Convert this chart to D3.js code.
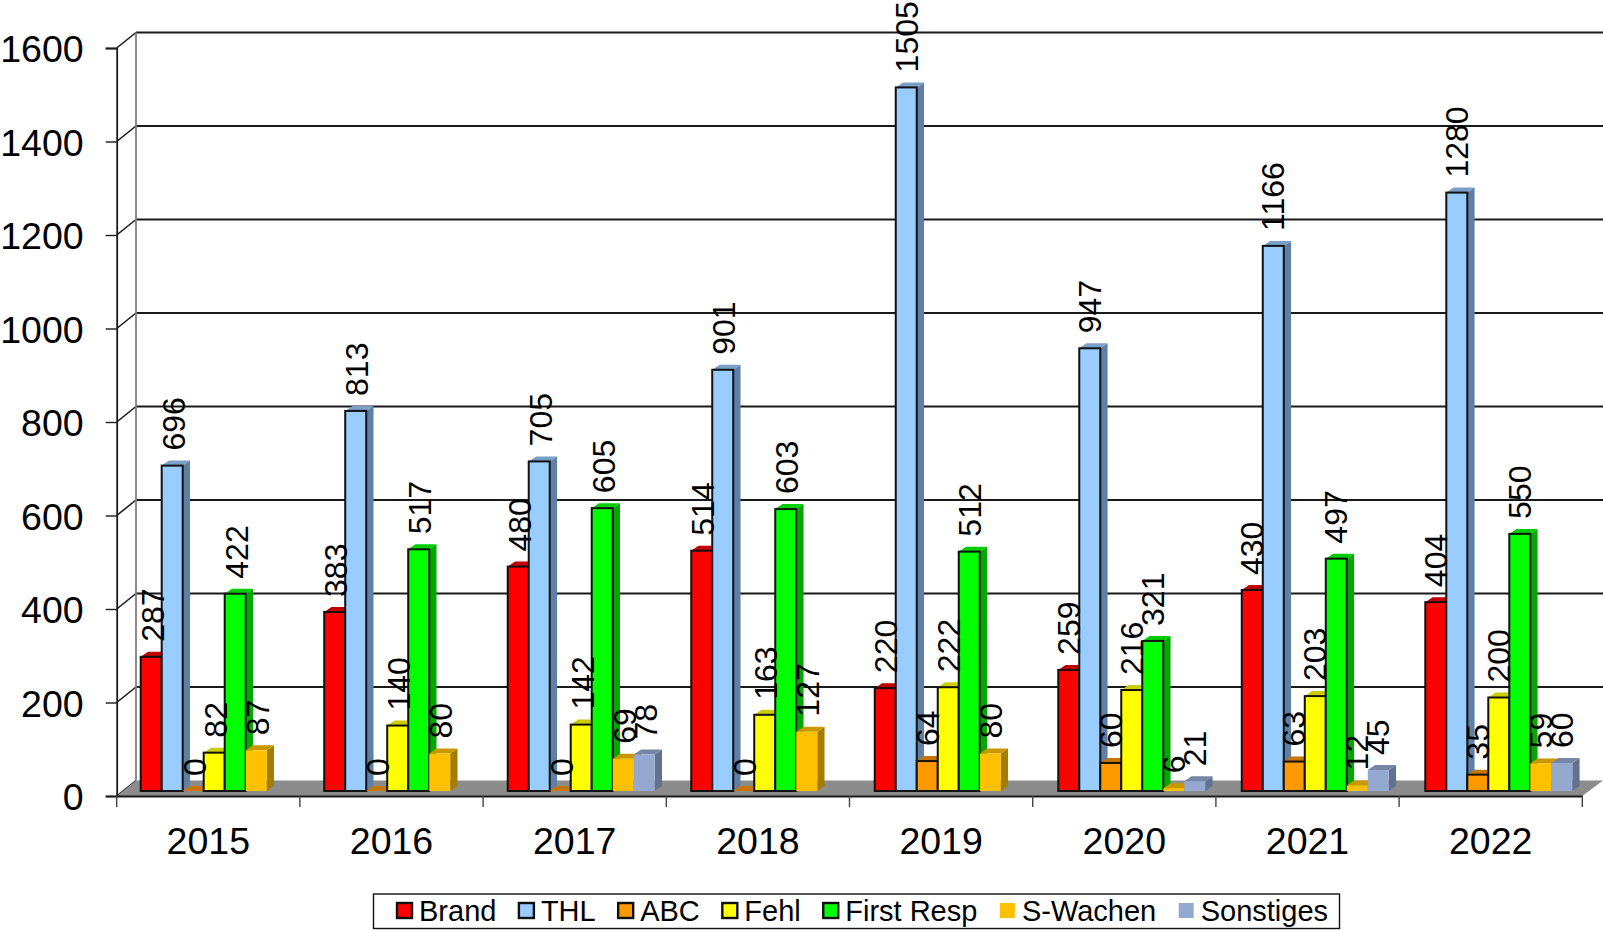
<!DOCTYPE html>
<html>
<head>
<meta charset="utf-8">
<script src="https://cdn.jsdelivr.net/npm/d3@7"></script>
<style>
  html, body { margin: 0; padding: 0; background: #fff; overflow: hidden; }
  svg { display: block; }
  text { font-family: "Liberation Sans", Arial, sans-serif; fill: #000; }
</style>
</head>
<body>
<svg></svg>
<script>
const years = ["2015", "2016", "2017", "2018", "2019", "2020", "2021", "2022"];
const seriesNames = ["Brand", "THL", "ABC", "Fehl", "First Resp", "S-Wachen", "Sonstiges"];

const brand = [287, 383, 480, 514, 220, 259, 430, 404];
const thl = [696, 813, 705, 901, 1505, 947, 1166, 1280];
const abc = [0, 0, 0, 0, 64, 60, 63, 35];
const fehl = [82, 140, 142, 163, 222, 216, 203, 200];
const firstResp = [422, 517, 605, 603, 512, 321, 497, 550];
const sWachen = [87, 80, 69, 127, 80, 6, 12, 59];
const sonstiges = [null, null, 78, null, null, 21, 45, 60];

const yTicks = [0, 200, 400, 600, 800, 1000, 1200, 1400, 1600];

const front = ["#ff0000", "#99ccff", "#ff9900", "#ffff00", "#00ff00", "#ffc000", "#95a9d0"];
const tops = ["#c00000", "#7a9fc8", "#c67700", "#cccc00", "#00cc00", "#c99700", "#7686a6"];
const sides = ["#a00000", "#5f7fa6", "#a86500", "#a8a800", "#00a800", "#a67c00", "#627190"];
const outlined = [true, true, true, true, true, false, false];

const allSeries = [brand, thl, abc, fehl, firstResp, sWachen, sonstiges];

const width = 1603;
const height = 930;
const svg = d3.select("svg").attr("width", width).attr("height", height);

const x0 = 116.7;
const x1 = 1582.3;
const wallDx = 19.3;
const wallDy = 15.5;
const barDx = 7.3;
const barDy = 5;
const baseOffset = 5; // bars stand a little behind the front edge of the floor

const xScale = d3.scaleBand().domain(years).range([x0, x1]);
// the bar groups drift a touch to the right of the ticks in the original
const groupScale = d3.scaleBand().domain(years).range([x0, x1 + 2.5]);
const seriesScale = d3
  .scaleBand()
  .domain(seriesNames)
  .range([24, 24 + 147]);
const yScale = d3.scaleLinear().domain([0, 1600]).range([796, 48]);

const wallX = x0 + wallDx;

// back wall gridlines and diagonals
const grid = svg.append("g");
yTicks.forEach((t) => {
  const y = yScale(t);
  if (t > 0) {
    grid
      .append("line")
      .attr("x1", wallX)
      .attr("x2", width)
      .attr("y1", y - wallDy)
      .attr("y2", y - wallDy)
      .attr("stroke", "#1a1a1a")
      .attr("stroke-width", 2);
  }
  grid
    .append("line")
    .attr("x1", x0)
    .attr("x2", wallX)
    .attr("y1", y)
    .attr("y2", y - wallDy)
    .attr("stroke", "#1a1a1a")
    .attr("stroke-width", 1.6);
});

// floor
svg
  .append("polygon")
  .attr(
    "points",
    [
      [x0, yScale(0)],
      [wallX, yScale(0) - wallDy],
      [width, yScale(0) - wallDy],
      [x1, yScale(0)],
    ].join(" ")
  )
  .attr("fill", "#8c8c8c");

grid
  .append("line")
  .attr("x1", wallX)
  .attr("x2", wallX)
  .attr("y1", yScale(1600) - wallDy)
  .attr("y2", yScale(0) - wallDy)
  .attr("stroke", "#808080")
  .attr("stroke-width", 1.8);

// y axis
const yAxis = svg
  .append("g")
  .attr("transform", `translate(${x0},0)`)
  .call(d3.axisLeft(yScale).tickValues(yTicks).tickFormat(d3.format("d")).tickSize(11).tickPadding(22));
yAxis.select(".domain").attr("stroke", "#1a1a1a").attr("stroke-width", 1.8);
yAxis.selectAll("line").attr("stroke", "#1a1a1a").attr("stroke-width", 1.4);
yAxis.selectAll("text").style("font-size", "37.5px").attr("dy", "0.36em");

// x axis
const xAxis = svg
  .append("g")
  .attr("transform", `translate(0,${yScale(0)})`)
  .call(d3.axisBottom(xScale).tickSize(0).tickPadding(31));
xAxis.select(".domain").attr("stroke", "#1a1a1a").attr("stroke-width", 2);
xAxis.selectAll("text").style("font-size", "37.5px");

const edges = years.map((y) => xScale(y)).concat([x1]);
svg
  .append("g")
  .selectAll("line")
  .data(edges)
  .enter()
  .append("line")
  .attr("x1", (d) => d)
  .attr("x2", (d) => d)
  .attr("y1", yScale(0))
  .attr("y2", yScale(0) + 11)
  .attr("stroke", "#444")
  .attr("stroke-width", 1.4);

// bars, left to right so each one covers the side of the previous one
const bars = svg.append("g");
const labels = [];
const barW = seriesScale.bandwidth();
const baseY = yScale(0) - baseOffset;
const unit = yScale(0) - yScale(1);

years.forEach((year, i) => {
  seriesNames.forEach((name, s) => {
    const v = allSeries[s][i];
    if (v === null) return;
    const left = groupScale(year) + seriesScale(name);
    const right = left + barW;
    const top = baseY - v * unit;
    const line = outlined[s] ? "#111" : "none";

    bars
      .append("polygon")
      .attr("points", [[right, top], [right + barDx, top - barDy], [right + barDx, baseY - barDy], [right, baseY]].join(" "))
      .attr("fill", sides[s]);
    bars
      .append("polygon")
      .attr("points", [[left, top], [left + barDx, top - barDy], [right + barDx, top - barDy], [right, top]].join(" "))
      .attr("fill", tops[s]);
    if (v > 0) {
      bars
        .append("rect")
        .attr("x", left)
        .attr("y", top)
        .attr("width", barW)
        .attr("height", baseY - top)
        .attr("fill", front[s])
        .attr("stroke", line)
        .attr("stroke-width", 2);
    }
    labels.push({ v, x: xScale(year) + seriesScale(name) + barW / 2 + 1.5, y: top - 15 });
  });
});

// data labels sit above all the bars
svg
  .append("g")
  .selectAll("text")
  .data(labels)
  .enter()
  .append("text")
  .attr("transform", (d) => `translate(${d.x},${d.y}) rotate(-90)`)
  .attr("dy", "0.36em")
  .style("font-size", "32px")
  .text((d) => d.v);

// legend
svg.append("rect")
  .attr("x", 373.5)
  .attr("y", 894)
  .attr("width", 966)
  .attr("height", 34.5)
  .attr("fill", "#fff")
  .attr("stroke", "#111")
  .attr("stroke-width", 1.4);

let cursor = 397;
seriesNames.forEach((name, s) => {
  svg
    .append("rect")
    .attr("x", cursor)
    .attr("y", 903)
    .attr("width", 15)
    .attr("height", 15)
    .attr("fill", front[s])
    .attr("stroke", outlined[s] ? "#111" : "none")
    .attr("stroke-width", 2.4);
  const label = svg
    .append("text")
    .attr("x", cursor + 22)
    .attr("y", 921)
    .style("font-size", "29px")
    .text(name);
  cursor += 22 + label.node().getComputedTextLength() + 22.5;
});
</script>
</body>
</html>
